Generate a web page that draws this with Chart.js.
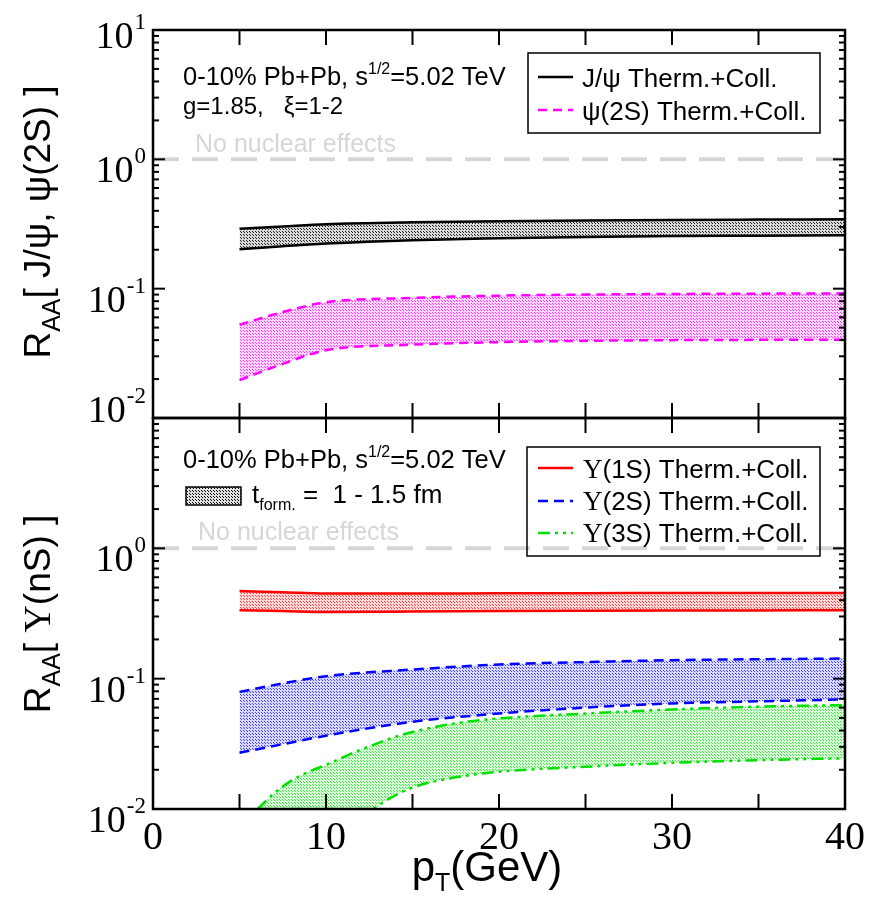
<!DOCTYPE html>
<html>
<head>
<meta charset="utf-8">
<script src="https://cdn.jsdelivr.net/npm/chart.js@4.4.0/dist/chart.umd.min.js"></script>
<style>
body { margin: 0; background: #fff; }
#wrap { position: relative; width: 882px; height: 898px; }
canvas { position: absolute; left: 0; }
#top { top: 0; }
#bot { top: 400px; }
</style>
</head>
<body>
<div id="wrap">
  <canvas id="top" width="882" height="440"></canvas>
  <canvas id="bot" width="882" height="498"></canvas>
</div>
<script>
// x ticks / axis range
const xTickLabels = [0, 10, 20, 30, 40];
const noEffect = 1;

// charmonium (top panel)
const ptCharm    = [5, 7.5, 10, 15, 20, 25, 30, 35, 40];
const jpsiUpper  = [0.291, 0.303, 0.315, 0.326, 0.332, 0.337, 0.340, 0.342, 0.344];
const jpsiLower  = [0.202, 0.213, 0.223, 0.237, 0.245, 0.251, 0.255, 0.257, 0.259];
const psi2Upper  = [0.0526, 0.066, 0.0785, 0.0848, 0.0883, 0.0900, 0.0910, 0.0915, 0.0920];
const psi2Lower  = [0.0196, 0.0262, 0.0334, 0.0369, 0.0386, 0.0395, 0.0400, 0.0402, 0.0403];

// bottomonium (bottom panel)
const ptBottom   = [5, 7.5, 10, 15, 20, 25, 30, 35, 40];
const ups1Upper  = [0.471, 0.460, 0.450, 0.450, 0.452, 0.453, 0.454, 0.455, 0.455];
const ups1Lower  = [0.335, 0.330, 0.325, 0.327, 0.330, 0.332, 0.333, 0.334, 0.335];
const ups2Upper  = [0.0792, 0.092, 0.1045, 0.1175, 0.1285, 0.134, 0.1386, 0.141, 0.1427];
const ups2Lower  = [0.0270, 0.0314, 0.0365, 0.0467, 0.0540, 0.0600, 0.0646, 0.0670, 0.0693];
const ptUps3     = [6.05, 7, 8, 9, 10, 12, 12.6, 13.5, 15, 17.5, 20, 25, 30, 35, 40];
const ups3Upper  = [0.01, 0.0132, 0.0165, 0.0193, 0.0218, 0.0285, 0.0305, 0.034, 0.039, 0.0455, 0.0495, 0.054, 0.058, 0.061, 0.0627];
const ups3Lower  = [0.01, 0.01, 0.01, 0.01, 0.01, 0.01, 0.01, 0.0117, 0.0146, 0.0175, 0.0193, 0.0211, 0.0226, 0.0237, 0.0245];

const SANS = "'Liberation Sans', Arial, sans-serif";
const SERIF = "'Liberation Serif', 'Times New Roman', serif";

function pts(xs, ys) { return xs.map((x, i) => ({ x: x, y: ys[i] })); }

function stipple(color, tint) {
  const c = document.createElement("canvas");
  c.width = 3; c.height = 3;
  const g = c.getContext("2d");
  g.fillStyle = tint;
  g.fillRect(0, 0, 3, 3);
  g.fillStyle = color;
  g.fillRect(0, 0, 1, 1);
  g.fillRect(1, 1, 1, 1);
  return g.createPattern(c, "repeat");
}

function band(xs, up, lo, color, dot, tint, dash) {
  return [
    { data: pts(xs, up), borderColor: color, borderWidth: 2.5, borderDash: dash,
      backgroundColor: stipple(dot, tint), fill: "+1" },
    { data: pts(xs, lo), borderColor: color, borderWidth: 2.5, borderDash: dash, fill: false }
  ];
}

function refLine() {
  return { data: [{ x: 0, y: noEffect }, { x: 40, y: noEffect }], borderColor: "#d6d6d6",
           borderWidth: 4, borderDash: [26, 13], fill: false, cubicInterpolationMode: "default" };
}

// draw a run of text pieces: [text, font, dy]
function rich(ctx, parts, x, y, align) {
  let w = 0;
  parts.forEach(p => { ctx.font = p[1]; w += ctx.measureText(p[0]).width; });
  let cx = align === "center" ? x - w / 2 : (align === "right" ? x - w : x);
  ctx.textAlign = "left";
  ctx.textBaseline = "alphabetic";
  parts.forEach(p => {
    ctx.font = p[1];
    ctx.fillText(p[0], cx, y + (p[2] || 0));
    cx += ctx.measureText(p[0]).width;
  });
}

function seg(ctx, x1, y1, x2, y2) {
  ctx.beginPath(); ctx.moveTo(x1, y1); ctx.lineTo(x2, y2); ctx.stroke();
}

function axesPlugin(off, yLabelShift, showX) {
  return {
    id: "frame" + off,
    afterDraw(chart) {
      const { ctx, chartArea: a, scales: { x, y } } = chart;
      ctx.save();
      ctx.strokeStyle = "#000";
      ctx.fillStyle = "#000";
      ctx.lineWidth = 2;
      for (let v = 0; v <= 40; v += 5) {
        const px = x.getPixelForValue(v);
        seg(ctx, px, a.bottom, px, a.bottom - 15);
        seg(ctx, px, a.top, px, a.top + 15);
      }
      for (let e = -2; e <= 1; e++) {
        for (let m = 1; m <= 9; m++) {
          const v = m * Math.pow(10, e);
          if (v > 10.0001) break;
          const py = y.getPixelForValue(v);
          const len = m === 1 ? 12 : 6;
          seg(ctx, a.left, py, a.left + len, py);
          seg(ctx, a.right, py, a.right - len, py);
        }
      }
      ctx.lineWidth = 2.5;
      ctx.strokeRect(a.left, a.top, a.width, a.height);

      // y tick labels 10^n
      for (const e in yLabelShift) {
        const py = y.getPixelForValue(Math.pow(10, +e));
        const b = py + yLabelShift[e];
        ctx.font = "23px " + SERIF;
        const sw = ctx.measureText(String(e)).width;
        ctx.textAlign = "left";
        ctx.fillText(String(e), 146 - sw, b - 19);
        ctx.font = "38px " + SERIF;
        ctx.textAlign = "right";
        ctx.fillText("10", 146 - sw - 1, b);
      }
      if (showX) {
        ctx.font = "40px " + SERIF;
        ctx.textAlign = "center";
        xTickLabels.forEach(v => ctx.fillText(String(v), x.getPixelForValue(v), 849 - off));
        rich(ctx, [["p", "42px " + SANS], ["T", "25px " + SANS, 10], ["(GeV)", "42px " + SANS]], 487, 881 - off, "center");
      }
      ctx.restore();
    }
  };
}

function legendBox(ctx, x1, y1, x2, y2) {
  ctx.lineWidth = 1.5;
  ctx.strokeStyle = "#000";
  ctx.strokeRect(x1, y1, x2 - x1, y2 - y1);
}

function legendLine(ctx, y, color, dash) {
  ctx.save();
  ctx.strokeStyle = color;
  ctx.lineWidth = 2.5;
  ctx.setLineDash(dash);
  seg(ctx, 538, y, 573, y);
  ctx.restore();
}

const topText = {
  id: "topText",
  afterDraw(chart) {
    const ctx = chart.ctx;
    ctx.save();
    ctx.fillStyle = "#000";
    rich(ctx, [["0-10% Pb+Pb, s", "25.5px " + SANS], ["1/2", "16px " + SANS, -11], ["=5.02 TeV", "25.5px " + SANS]], 183, 85, "left");
    rich(ctx, [["g=1.85,   \u03be=1-2", "24px " + SANS]], 183, 114, "left");
    ctx.fillStyle = "#d6d6d6";
    rich(ctx, [["No nuclear effects", "25px " + SANS]], 195, 152, "left");
    legendBox(ctx, 528, 53, 820, 133);
    legendLine(ctx, 77, "#000", []);
    legendLine(ctx, 110, "#ff00ff", [9, 6]);
    ctx.fillStyle = "#000";
    rich(ctx, [["J/\u03c8 Therm.+Coll.", "26px " + SANS]], 582, 87, "left");
    rich(ctx, [["\u03c8(2S) Therm.+Coll.", "26px " + SANS]], 582, 120, "left");
    ctx.translate(50, 222);
    ctx.rotate(-Math.PI / 2);
    rich(ctx, [["R", "37px " + SANS], ["AA", "25px " + SANS, 10], ["[ J/\u03c8, \u03c8(2S) ]", "37px " + SANS]], 0, 0, "center");
    ctx.restore();
  }
};

const botText = {
  id: "botText",
  afterDraw(chart) {
    const ctx = chart.ctx;
    const o = 400;
    ctx.save();
    ctx.fillStyle = "#000";
    rich(ctx, [["0-10% Pb+Pb, s", "25.5px " + SANS], ["1/2", "16px " + SANS, -11], ["=5.02 TeV", "25.5px " + SANS]], 183, 468 - o, "left");
    ctx.fillStyle = stipple("#000", "rgba(0,0,0,0.12)");
    ctx.fillRect(186, 487 - o, 55, 18);
    legendBox(ctx, 186, 487 - o, 241, 505 - o);
    ctx.fillStyle = "#000";
    rich(ctx, [["t", "26px " + SANS], ["form.", "16px " + SANS, 7], [" =  1 - 1.5 fm", "26px " + SANS]], 252, 503 - o, "left");
    ctx.fillStyle = "#d6d6d6";
    rich(ctx, [["No nuclear effects", "25px " + SANS]], 198, 540 - o, "left");
    legendBox(ctx, 527, 447 - o, 820, 556 - o);
    legendLine(ctx, 468 - o, "#ff0000", []);
    legendLine(ctx, 501 - o, "#0000ff", [10, 6]);
    legendLine(ctx, 533 - o, "#00e000", [12, 5, 3, 5, 3, 5]);
    ctx.fillStyle = "#000";
    const names = ["\u03a5(1S)", "\u03a5(2S)", "\u03a5(3S)"];
    const base = [478, 510, 542];
    names.forEach((n, i) => rich(ctx, [[n.slice(0, 1), "27px " + SERIF], [n.slice(1) + " Therm.+Coll.", "26px " + SANS]], 583, base[i] - o, "left"));
    ctx.translate(50, 614 - o);
    ctx.rotate(-Math.PI / 2);
    rich(ctx, [["R", "37px " + SANS], ["AA", "25px " + SANS, 10], ["[ ", "37px " + SANS], ["\u03a5", "38px " + SERIF], ["(nS) ]", "37px " + SANS]], 0, 0, "center");
    ctx.restore();
  }
};

function options(padTop, xHeight) {
  return {
    responsive: false,
    animation: false,
    layout: { padding: { top: padTop, right: 37, left: 0, bottom: 0 } },
    elements: { point: { radius: 0 }, line: { cubicInterpolationMode: "monotone" } },
    plugins: { legend: { display: false }, tooltip: { enabled: false } },
    scales: {
      x: { type: "linear", min: 0, max: 40, grid: { display: false }, border: { display: false },
           ticks: { display: false }, afterFit: s => { s.height = xHeight; } },
      y: { type: "logarithmic", min: 0.01, max: 10, grid: { display: false }, border: { display: false },
           ticks: { display: false }, afterFit: s => { s.width = 153; } }
    }
  };
}

new Chart(document.getElementById("top"), {
  type: "line",
  data: { datasets: [refLine()]
    .concat(band(ptCharm, jpsiUpper, jpsiLower, "#000000", "rgba(0,0,0,0.85)", "rgba(0,0,0,0.15)", []))
    .concat(band(ptCharm, psi2Upper, psi2Lower, "#ff00ff", "rgba(255,0,255,0.75)", "rgba(255,0,255,0.16)", [9, 6])) },
  options: options(30, 22),
  plugins: [axesPlugin(0, { "1": 18, "0": 23, "-1": 23, "-2": 4 }, false), topText]
});

new Chart(document.getElementById("bot"), {
  type: "line",
  data: { datasets: [refLine()]
    .concat(band(ptBottom, ups1Upper, ups1Lower, "#ff0000", "rgba(255,0,0,0.7)", "rgba(255,0,0,0.15)", []))
    .concat(band(ptBottom, ups2Upper, ups2Lower, "#0000ff", "rgba(0,0,255,0.7)", "rgba(0,0,255,0.15)", [10, 6]))
    .concat(band(ptUps3, ups3Upper, ups3Lower, "#00e000", "rgba(0,224,0,0.7)", "rgba(0,224,0,0.15)", [12, 5, 3, 5, 3, 5])) },
  options: options(18, 89),
  plugins: [axesPlugin(400, { "0": 23, "-1": 23, "-2": 23 }, true), botText]
});
</script>
</body>
</html>
